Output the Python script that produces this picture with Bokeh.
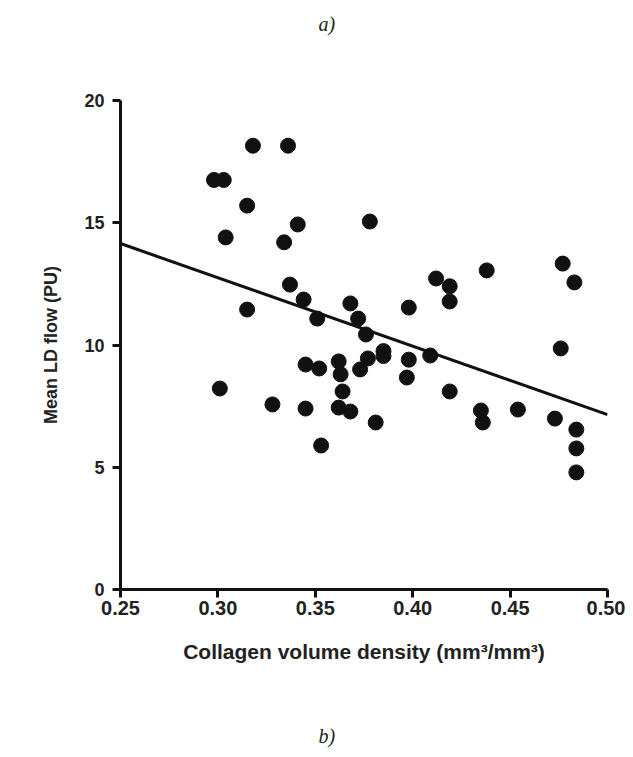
from bokeh.plotting import figure
from bokeh.models import Title, Range1d, FixedTicker, ColumnDataSource
from bokeh.embed import file_html
from bokeh.resources import INLINE

# Data
collagen = [0.298, 0.303, 0.318, 0.336, 0.315, 0.341, 0.304, 0.334, 0.337, 0.344,
            0.315, 0.351, 0.368, 0.372, 0.376, 0.377, 0.373, 0.385, 0.385, 0.398,
            0.398, 0.397, 0.409, 0.412, 0.419, 0.419, 0.419, 0.438, 0.435, 0.436,
            0.454, 0.473, 0.477, 0.483, 0.476, 0.484, 0.484, 0.484, 0.381, 0.368,
            0.362, 0.345, 0.352, 0.362, 0.363, 0.364, 0.301, 0.328, 0.345, 0.353,
            0.378]
ld_flow = [16.75, 16.75, 18.15, 18.15, 15.7, 14.93, 14.4, 14.2, 12.47, 11.86,
           11.45, 11.08, 11.7, 11.08, 10.43, 9.45, 9.0, 9.75, 9.55, 11.53,
           9.4, 8.67, 9.57, 12.72, 12.4, 11.78, 8.1, 13.05, 7.32, 6.83,
           7.36, 6.99, 13.33, 12.56, 9.86, 6.54, 5.77, 4.79, 6.83, 7.28,
           7.44, 9.2, 9.04, 9.33, 8.8, 8.1, 8.22, 7.57, 7.4, 5.89,
           15.05]
fit_x = [0.25, 0.50]
fit_y = [14.15, 7.15]
x_ticks = [0.25, 0.30, 0.35, 0.40, 0.45, 0.50]
y_ticks = [0, 5, 10, 15, 20]
panel_labels = ["a)", "b)"]

p = figure(width=625, height=757, output_backend="svg", toolbar_location=None,
           x_range=Range1d(0.25, 0.50), y_range=Range1d(0, 20),
           min_border_left=120, min_border_right=18, min_border_top=100,
           min_border_bottom=168)
p.grid.visible = False
p.outline_line_color = None

src = ColumnDataSource(dict(x=collagen, y=ld_flow))
p.scatter("x", "y", source=src, size=15, color="#111111")
p.line(fit_x, fit_y, line_width=3, color="#111111")

font = "Liberation Sans"
for ax in (p.xaxis[0], p.yaxis[0]):
    ax.axis_line_width = 3
    ax.axis_line_color = "#111111"
    ax.major_tick_line_width = 3
    ax.major_tick_line_color = "#111111"
    ax.major_tick_out = 8
    ax.major_tick_in = 0
    ax.minor_tick_line_color = None
    ax.major_label_text_font = font
    ax.major_label_text_font_size = "18px"
    ax.major_label_text_font_style = "bold"
    ax.major_label_text_color = "#222222"
    ax.axis_label_text_font = font
    ax.axis_label_text_font_size = "18px"
    ax.axis_label_text_font_style = "bold"
    ax.axis_label_text_color = "#222222"

p.xaxis[0].major_label_text_font_size = "20px"
p.xaxis[0].axis_label_text_font_size = "21px"
p.xaxis[0].ticker = FixedTicker(ticks=x_ticks)
p.yaxis[0].ticker = FixedTicker(ticks=y_ticks)
p.xaxis[0].major_label_overrides = {t: f"{t:.2f}" for t in x_ticks}
p.xaxis[0].axis_label = "Collagen volume density (mm³/mm³)"
p.yaxis[0].axis_label = "Mean LD flow (PU)"
p.xaxis[0].axis_label_standoff = 22
p.yaxis[0].axis_label_standoff = 20
p.xaxis[0].major_label_standoff = 3
p.yaxis[0].major_label_standoff = 8


def spacer(gap):
    return Title(text=" ", text_font_size="1px", standoff=gap)


def panel_title(txt):
    return Title(text=txt, align="left", offset=198, standoff=0,
                 text_font="Liberation Serif", text_font_style="italic",
                 text_font_size="20px", text_color="#222222")


p.add_layout(spacer(63), "above")
p.add_layout(panel_title(panel_labels[0]), "above")
p.add_layout(spacer(54), "below")
p.add_layout(panel_title(panel_labels[1]), "below")

open("out.html", "w").write(file_html(p, INLINE))
